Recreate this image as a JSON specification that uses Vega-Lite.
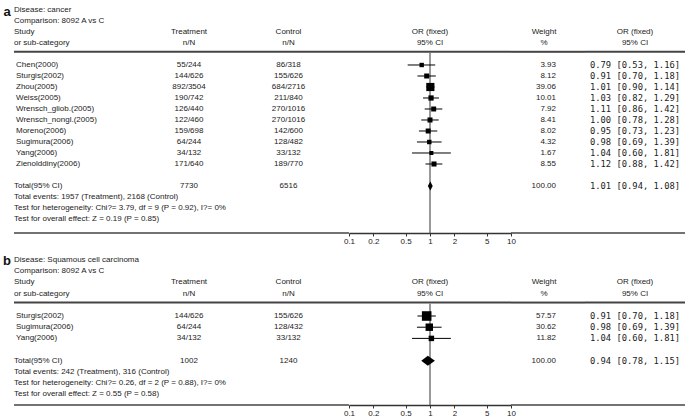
{
"$schema": "https://vega.github.io/schema/vega-lite/v6.json",
"padding": 0,
"background": "white",
"config": {"view": {"stroke": null}, "text": {"font": "Liberation Sans", "fontSize": 8, "color": "#222"}},
"datasets": {
 "a_rows": [
  {"row": 5, "study": "Chen(2000)", "treat": "55/244", "ctrl": "86/318", "weight": 3.93, "or": 0.79, "lo": 0.53, "hi": 1.16, "ci": "0.79 [0.53, 1.16]", "kind": "study"},
  {"row": 6, "study": "Sturgis(2002)", "treat": "144/626", "ctrl": "155/626", "weight": 8.12, "or": 0.91, "lo": 0.70, "hi": 1.18, "ci": "0.91 [0.70, 1.18]", "kind": "study"},
  {"row": 7, "study": "Zhou(2005)", "treat": "892/3504", "ctrl": "684/2716", "weight": 39.06, "or": 1.01, "lo": 0.90, "hi": 1.14, "ci": "1.01 [0.90, 1.14]", "kind": "study"},
  {"row": 8, "study": "Weiss(2005)", "treat": "190/742", "ctrl": "211/840", "weight": 10.01, "or": 1.03, "lo": 0.82, "hi": 1.29, "ci": "1.03 [0.82, 1.29]", "kind": "study"},
  {"row": 9, "study": "Wrensch_gliob.(2005)", "treat": "126/440", "ctrl": "270/1016", "weight": 7.92, "or": 1.11, "lo": 0.86, "hi": 1.42, "ci": "1.11 [0.86, 1.42]", "kind": "study"},
  {"row": 10, "study": "Wrensch_nongl.(2005)", "treat": "122/460", "ctrl": "270/1016", "weight": 8.41, "or": 1.00, "lo": 0.78, "hi": 1.28, "ci": "1.00 [0.78, 1.28]", "kind": "study"},
  {"row": 11, "study": "Moreno(2006)", "treat": "159/698", "ctrl": "142/600", "weight": 8.02, "or": 0.95, "lo": 0.73, "hi": 1.23, "ci": "0.95 [0.73, 1.23]", "kind": "study"},
  {"row": 12, "study": "Sugimura(2006)", "treat": "64/244", "ctrl": "128/482", "weight": 4.32, "or": 0.98, "lo": 0.69, "hi": 1.39, "ci": "0.98 [0.69, 1.39]", "kind": "study"},
  {"row": 13, "study": "Yang(2006)", "treat": "34/132", "ctrl": "33/132", "weight": 1.67, "or": 1.04, "lo": 0.60, "hi": 1.81, "ci": "1.04 [0.60, 1.81]", "kind": "study"},
  {"row": 14, "study": "Zienolddiny(2006)", "treat": "171/640", "ctrl": "189/770", "weight": 8.55, "or": 1.12, "lo": 0.88, "hi": 1.42, "ci": "1.12 [0.88, 1.42]", "kind": "study"},
  {"row": 16, "study": "Total(95% CI)", "treat": "7730", "ctrl": "6516", "weight": 100.00, "or": 1.01, "lo": 0.94, "hi": 1.08, "ci": "1.01 [0.94, 1.08]", "kind": "total"}
 ],
 "a_notes": [
  {"row": 0, "note": "Disease: cancer"},
  {"row": 1, "note": "Comparison: 8092 A vs C"},
  {"row": 2, "note": "Study"},
  {"row": 3, "note": "or sub-category"},
  {"row": 17, "note": "Total events: 1957 (Treatment), 2168 (Control)"},
  {"row": 18, "note": "Test for heterogeneity: Chi?= 3.79, df = 9 (P = 0.92), I?= 0%"},
  {"row": 19, "note": "Test for overall effect: Z = 0.19 (P = 0.85)"}
 ],
 "b_rows": [
  {"row": 5, "study": "Sturgis(2002)", "treat": "144/626", "ctrl": "155/626", "weight": 57.57, "or": 0.91, "lo": 0.70, "hi": 1.18, "ci": "0.91 [0.70, 1.18]", "kind": "study"},
  {"row": 6, "study": "Sugimura(2006)", "treat": "64/244", "ctrl": "128/432", "weight": 30.62, "or": 0.98, "lo": 0.69, "hi": 1.39, "ci": "0.98 [0.69, 1.39]", "kind": "study"},
  {"row": 7, "study": "Yang(2006)", "treat": "34/132", "ctrl": "33/132", "weight": 11.82, "or": 1.04, "lo": 0.60, "hi": 1.81, "ci": "1.04 [0.60, 1.81]", "kind": "study"},
  {"row": 9, "study": "Total(95% CI)", "treat": "1002", "ctrl": "1240", "weight": 100.00, "or": 0.94, "lo": 0.78, "hi": 1.15, "ci": "0.94 [0.78, 1.15]", "kind": "total"}
 ],
 "b_notes": [
  {"row": 0, "note": "Disease: Squamous cell carcinoma"},
  {"row": 1, "note": "Comparison: 8092 A vs C"},
  {"row": 2, "note": "Study"},
  {"row": 3, "note": "or sub-category"},
  {"row": 10, "note": "Total events: 242 (Treatment), 316 (Control)"},
  {"row": 11, "note": "Test for heterogeneity: Chi?= 0.26, df = 2 (P = 0.88), I?= 0%"},
  {"row": 12, "note": "Test for overall effect: Z = 0.55 (P = 0.58)"}
 ]
},
"spacing": 5,
"vconcat": [
 {
  "bounds": "flush",
  "spacing": 0,
  "hconcat": [
   {"width": 14, "height": 233, "data": {"values": [{}]}, "mark": {"type": "text", "text": "a", "fontWeight": "bold", "fontSize": 13, "color": "#111"},
    "encoding": {"y": {"datum": 0.15, "type": "quantitative", "scale": {"domain": [-0.909, 20.273], "reverse": true, "nice": false, "zero": false}, "axis": null}}},
   {"width": 136, "height": 233, "layer": [
     {"data": {"name": "a_notes"}, "mark": {"type": "text", "align": "left"}, "encoding": {"x": {"value": 0}, "y": {"field": "row", "type": "quantitative", "scale": {"domain": [-0.909, 20.273], "reverse": true, "nice": false, "zero": false}, "axis": null}, "text": {"field": "note"}}},
     {"data": {"name": "a_rows"}, "transform": [{"filter": "datum.kind == 'study'"}], "mark": {"type": "text", "align": "left", "dx": 2}, "encoding": {"x": {"value": 0}, "y": {"field": "row", "type": "quantitative", "scale": {"domain": [-0.909, 20.273], "reverse": true, "nice": false, "zero": false}, "axis": null}, "text": {"field": "study"}}},
     {"data": {"name": "a_rows"}, "transform": [{"filter": "datum.kind == 'total'"}], "mark": {"type": "text", "align": "left"}, "encoding": {"x": {"value": 0}, "y": {"field": "row", "type": "quantitative", "scale": {"domain": [-0.909, 20.273], "reverse": true, "nice": false, "zero": false}, "axis": null}, "text": {"field": "study"}}},
     {"data": {"values": [{}]}, "mark": {"type": "rule", "color": "#444", "strokeWidth": 2}, "encoding": {"y": {"datum": 3.8, "type": "quantitative", "scale": {"domain": [-0.909, 20.273], "reverse": true, "nice": false, "zero": false}, "axis": null}}},
     {"data": {"values": [{}]}, "mark": {"type": "rule", "color": "#444", "strokeWidth": 1.5}, "encoding": {"y": {"datum": 20.273, "type": "quantitative", "scale": {"domain": [-0.909, 20.273], "reverse": true, "nice": false, "zero": false}, "axis": null}}}
   ]},
   {"width": 78, "height": 233, "layer": [
     {"data": {"values": [{"row": 2, "h": "Treatment"}, {"row": 3, "h": "n/N"}]}, "mark": "text", "encoding": {"y": {"field": "row", "type": "quantitative", "scale": {"domain": [-0.909, 20.273], "reverse": true, "nice": false, "zero": false}, "axis": null}, "text": {"field": "h"}}},
     {"data": {"name": "a_rows"}, "mark": "text", "encoding": {"y": {"field": "row", "type": "quantitative", "scale": {"domain": [-0.909, 20.273], "reverse": true, "nice": false, "zero": false}, "axis": null}, "text": {"field": "treat"}}},
     {"data": {"values": [{}]}, "mark": {"type": "rule", "color": "#444", "strokeWidth": 2}, "encoding": {"y": {"datum": 3.8, "type": "quantitative", "scale": {"domain": [-0.909, 20.273], "reverse": true, "nice": false, "zero": false}, "axis": null}}},
     {"data": {"values": [{}]}, "mark": {"type": "rule", "color": "#444", "strokeWidth": 1.5}, "encoding": {"y": {"datum": 20.273, "type": "quantitative", "scale": {"domain": [-0.909, 20.273], "reverse": true, "nice": false, "zero": false}, "axis": null}}}
   ]},
   {"width": 121, "height": 233, "layer": [
     {"data": {"values": [{"row": 2, "h": "Control"}, {"row": 3, "h": "n/N"}]}, "mark": "text", "encoding": {"y": {"field": "row", "type": "quantitative", "scale": {"domain": [-0.909, 20.273], "reverse": true, "nice": false, "zero": false}, "axis": null}, "text": {"field": "h"}}},
     {"data": {"name": "a_rows"}, "mark": "text", "encoding": {"y": {"field": "row", "type": "quantitative", "scale": {"domain": [-0.909, 20.273], "reverse": true, "nice": false, "zero": false}, "axis": null}, "text": {"field": "ctrl"}}},
     {"data": {"values": [{}]}, "mark": {"type": "rule", "color": "#444", "strokeWidth": 2}, "encoding": {"y": {"datum": 3.8, "type": "quantitative", "scale": {"domain": [-0.909, 20.273], "reverse": true, "nice": false, "zero": false}, "axis": null}}},
     {"data": {"values": [{}]}, "mark": {"type": "rule", "color": "#444", "strokeWidth": 1.5}, "encoding": {"y": {"datum": 20.273, "type": "quantitative", "scale": {"domain": [-0.909, 20.273], "reverse": true, "nice": false, "zero": false}, "axis": null}}}
   ]},
   {"width": 162, "height": 233, "layer": [
     {"data": {"values": [{"row": 2, "h": "OR (fixed)"}, {"row": 3, "h": "95% CI"}]}, "mark": "text", "encoding": {"y": {"field": "row", "type": "quantitative", "scale": {"domain": [-0.909, 20.273], "reverse": true, "nice": false, "zero": false}, "axis": null}, "text": {"field": "h"}}},
     {"data": {"values": [{}]}, "mark": {"type": "rule", "color": "#444", "strokeWidth": 2}, "encoding": {"y": {"datum": 3.8, "type": "quantitative", "scale": {"domain": [-0.909, 20.273], "reverse": true, "nice": false, "zero": false}, "axis": null}}},
     {"data": {"values": [{}]}, "mark": {"type": "rule", "color": "#555", "strokeWidth": 1.2},
      "encoding": {"x": {"datum": 1, "type": "quantitative", "scale": {"type": "log", "domain": [0.1, 10], "nice": false}, "axis": {"values": [0.1, 0.2, 0.5, 1, 2, 5, 10], "labelExpr": "'' + datum.value", "title": null, "grid": false, "tickSize": 3, "labelFontSize": 8, "labelFont": "Liberation Sans", "labelPadding": 1, "labelColor": "#222", "domainColor": "#333", "domainWidth": 1.5, "tickColor": "#333", "labelFlush": false, "labelOverlap": false, "labelBound": false}},
       "y": {"datum": 3.9, "type": "quantitative", "scale": {"domain": [-0.909, 20.273], "reverse": true, "nice": false, "zero": false}, "axis": null}, "y2": {"datum": 20.273}}},
     {"data": {"name": "a_rows"}, "transform": [{"filter": "datum.kind == 'study'"}], "mark": {"type": "rule", "color": "#000", "strokeWidth": 1},
      "encoding": {"x": {"field": "lo", "type": "quantitative", "scale": {"type": "log", "domain": [0.1, 10], "nice": false}, "axis": {"values": [0.1, 0.2, 0.5, 1, 2, 5, 10], "labelExpr": "'' + datum.value", "title": null, "grid": false, "tickSize": 3, "labelFontSize": 8, "labelFont": "Liberation Sans", "labelPadding": 1, "labelColor": "#222", "domainColor": "#333", "domainWidth": 1.5, "tickColor": "#333", "labelFlush": false, "labelOverlap": false, "labelBound": false}},
       "x2": {"field": "hi"}, "y": {"field": "row", "type": "quantitative", "scale": {"domain": [-0.909, 20.273], "reverse": true, "nice": false, "zero": false}, "axis": null}}},
     {"data": {"name": "a_rows"}, "transform": [{"filter": "datum.kind == 'study'"}], "mark": {"type": "point", "shape": "square", "filled": true, "opacity": 1, "color": "#000"},
      "encoding": {"x": {"field": "or", "type": "quantitative", "scale": {"type": "log", "domain": [0.1, 10], "nice": false}, "axis": {"values": [0.1, 0.2, 0.5, 1, 2, 5, 10], "labelExpr": "'' + datum.value", "title": null, "grid": false, "tickSize": 3, "labelFontSize": 8, "labelFont": "Liberation Sans", "labelPadding": 1, "labelColor": "#222", "domainColor": "#333", "domainWidth": 1.5, "tickColor": "#333", "labelFlush": false, "labelOverlap": false, "labelBound": false}},
       "y": {"field": "row", "type": "quantitative", "scale": {"domain": [-0.909, 20.273], "reverse": true, "nice": false, "zero": false}, "axis": null},
       "size": {"field": "weight", "type": "quantitative", "scale": {"domain": [0, 100], "range": [14, 149]}, "legend": null}}},
     {"data": {"name": "a_rows"}, "transform": [{"filter": "datum.kind == 'total'"}], "mark": {"type": "point", "shape": "M-0.56,0L0,-1L0.52,0L0,1Z", "filled": true, "opacity": 1, "color": "#000", "size": 81},
      "encoding": {"x": {"field": "or", "type": "quantitative", "scale": {"type": "log", "domain": [0.1, 10], "nice": false}, "axis": {"values": [0.1, 0.2, 0.5, 1, 2, 5, 10], "labelExpr": "'' + datum.value", "title": null, "grid": false, "tickSize": 3, "labelFontSize": 8, "labelFont": "Liberation Sans", "labelPadding": 1, "labelColor": "#222", "domainColor": "#333", "domainWidth": 1.5, "tickColor": "#333", "labelFlush": false, "labelOverlap": false, "labelBound": false}},
       "y": {"field": "row", "type": "quantitative", "scale": {"domain": [-0.909, 20.273], "reverse": true, "nice": false, "zero": false}, "axis": null}}}
   ]},
   {"width": 21, "height": 233, "layer": [
     {"data": {"values": [{}]}, "mark": {"type": "rule", "color": "#444", "strokeWidth": 2}, "encoding": {"y": {"datum": 3.8, "type": "quantitative", "scale": {"domain": [-0.909, 20.273], "reverse": true, "nice": false, "zero": false}, "axis": null}}},
     {"data": {"values": [{}]}, "mark": {"type": "rule", "color": "#444", "strokeWidth": 1.5}, "encoding": {"y": {"datum": 20.273, "type": "quantitative", "scale": {"domain": [-0.909, 20.273], "reverse": true, "nice": false, "zero": false}, "axis": null}}}
   ]},
   {"width": 24, "height": 233, "layer": [
     {"data": {"values": [{"row": 2, "h": "Weight"}, {"row": 3, "h": "%"}]}, "mark": "text", "encoding": {"y": {"field": "row", "type": "quantitative", "scale": {"domain": [-0.909, 20.273], "reverse": true, "nice": false, "zero": false}, "axis": null}, "text": {"field": "h"}}},
     {"data": {"name": "a_rows"}, "mark": {"type": "text", "align": "right"}, "encoding": {"x": {"value": "width"}, "y": {"field": "row", "type": "quantitative", "scale": {"domain": [-0.909, 20.273], "reverse": true, "nice": false, "zero": false}, "axis": null}, "text": {"field": "weight", "format": ".2f"}}},
     {"data": {"values": [{}]}, "mark": {"type": "rule", "color": "#444", "strokeWidth": 2}, "encoding": {"y": {"datum": 3.8, "type": "quantitative", "scale": {"domain": [-0.909, 20.273], "reverse": true, "nice": false, "zero": false}, "axis": null}}},
     {"data": {"values": [{}]}, "mark": {"type": "rule", "color": "#444", "strokeWidth": 1.5}, "encoding": {"y": {"datum": 20.273, "type": "quantitative", "scale": {"domain": [-0.909, 20.273], "reverse": true, "nice": false, "zero": false}, "axis": null}}}
   ]},
   {"width": 29, "height": 233, "layer": [
     {"data": {"values": [{}]}, "mark": {"type": "rule", "color": "#444", "strokeWidth": 2}, "encoding": {"y": {"datum": 3.8, "type": "quantitative", "scale": {"domain": [-0.909, 20.273], "reverse": true, "nice": false, "zero": false}, "axis": null}}},
     {"data": {"values": [{}]}, "mark": {"type": "rule", "color": "#444", "strokeWidth": 1.5}, "encoding": {"y": {"datum": 20.273, "type": "quantitative", "scale": {"domain": [-0.909, 20.273], "reverse": true, "nice": false, "zero": false}, "axis": null}}}
   ]},
   {"width": 100, "height": 233, "layer": [
     {"data": {"values": [{"row": 2, "h": "OR (fixed)"}, {"row": 3, "h": "95% CI"}]}, "mark": "text", "encoding": {"y": {"field": "row", "type": "quantitative", "scale": {"domain": [-0.909, 20.273], "reverse": true, "nice": false, "zero": false}, "axis": null}, "text": {"field": "h"}}},
     {"data": {"name": "a_rows"}, "mark": {"type": "text", "font": "DejaVu Sans Mono", "fontSize": 8.8}, "encoding": {"y": {"field": "row", "type": "quantitative", "scale": {"domain": [-0.909, 20.273], "reverse": true, "nice": false, "zero": false}, "axis": null}, "text": {"field": "ci"}}},
     {"data": {"values": [{}]}, "mark": {"type": "rule", "color": "#444", "strokeWidth": 2}, "encoding": {"y": {"datum": 3.8, "type": "quantitative", "scale": {"domain": [-0.909, 20.273], "reverse": true, "nice": false, "zero": false}, "axis": null}}},
     {"data": {"values": [{}]}, "mark": {"type": "rule", "color": "#444", "strokeWidth": 1.5}, "encoding": {"y": {"datum": 20.273, "type": "quantitative", "scale": {"domain": [-0.909, 20.273], "reverse": true, "nice": false, "zero": false}, "axis": null}}}
   ]}
  ]
 },
 {
  "bounds": "flush",
  "spacing": 0,
  "hconcat": [
   {"width": 14, "height": 155, "data": {"values": [{}]}, "mark": {"type": "text", "text": "b", "fontWeight": "bold", "fontSize": 13, "color": "#111"},
    "encoding": {"y": {"datum": 0.05, "type": "quantitative", "scale": {"domain": [-0.893, 12.946], "reverse": true, "nice": false, "zero": false}, "axis": null}}},
   {"width": 136, "height": 155, "layer": [
     {"data": {"name": "b_notes"}, "mark": {"type": "text", "align": "left"}, "encoding": {"x": {"value": 0}, "y": {"field": "row", "type": "quantitative", "scale": {"domain": [-0.893, 12.946], "reverse": true, "nice": false, "zero": false}, "axis": null}, "text": {"field": "note"}}},
     {"data": {"name": "b_rows"}, "transform": [{"filter": "datum.kind == 'study'"}], "mark": {"type": "text", "align": "left", "dx": 2}, "encoding": {"x": {"value": 0}, "y": {"field": "row", "type": "quantitative", "scale": {"domain": [-0.893, 12.946], "reverse": true, "nice": false, "zero": false}, "axis": null}, "text": {"field": "study"}}},
     {"data": {"name": "b_rows"}, "transform": [{"filter": "datum.kind == 'total'"}], "mark": {"type": "text", "align": "left"}, "encoding": {"x": {"value": 0}, "y": {"field": "row", "type": "quantitative", "scale": {"domain": [-0.893, 12.946], "reverse": true, "nice": false, "zero": false}, "axis": null}, "text": {"field": "study"}}},
     {"data": {"values": [{}]}, "mark": {"type": "rule", "color": "#444", "strokeWidth": 2}, "encoding": {"y": {"datum": 3.8, "type": "quantitative", "scale": {"domain": [-0.893, 12.946], "reverse": true, "nice": false, "zero": false}, "axis": null}}},
     {"data": {"values": [{}]}, "mark": {"type": "rule", "color": "#444", "strokeWidth": 1.5}, "encoding": {"y": {"datum": 12.946, "type": "quantitative", "scale": {"domain": [-0.893, 12.946], "reverse": true, "nice": false, "zero": false}, "axis": null}}}
   ]},
   {"width": 78, "height": 155, "layer": [
     {"data": {"values": [{"row": 2, "h": "Treatment"}, {"row": 3, "h": "n/N"}]}, "mark": "text", "encoding": {"y": {"field": "row", "type": "quantitative", "scale": {"domain": [-0.893, 12.946], "reverse": true, "nice": false, "zero": false}, "axis": null}, "text": {"field": "h"}}},
     {"data": {"name": "b_rows"}, "mark": "text", "encoding": {"y": {"field": "row", "type": "quantitative", "scale": {"domain": [-0.893, 12.946], "reverse": true, "nice": false, "zero": false}, "axis": null}, "text": {"field": "treat"}}},
     {"data": {"values": [{}]}, "mark": {"type": "rule", "color": "#444", "strokeWidth": 2}, "encoding": {"y": {"datum": 3.8, "type": "quantitative", "scale": {"domain": [-0.893, 12.946], "reverse": true, "nice": false, "zero": false}, "axis": null}}},
     {"data": {"values": [{}]}, "mark": {"type": "rule", "color": "#444", "strokeWidth": 1.5}, "encoding": {"y": {"datum": 12.946, "type": "quantitative", "scale": {"domain": [-0.893, 12.946], "reverse": true, "nice": false, "zero": false}, "axis": null}}}
   ]},
   {"width": 121, "height": 155, "layer": [
     {"data": {"values": [{"row": 2, "h": "Control"}, {"row": 3, "h": "n/N"}]}, "mark": "text", "encoding": {"y": {"field": "row", "type": "quantitative", "scale": {"domain": [-0.893, 12.946], "reverse": true, "nice": false, "zero": false}, "axis": null}, "text": {"field": "h"}}},
     {"data": {"name": "b_rows"}, "mark": "text", "encoding": {"y": {"field": "row", "type": "quantitative", "scale": {"domain": [-0.893, 12.946], "reverse": true, "nice": false, "zero": false}, "axis": null}, "text": {"field": "ctrl"}}},
     {"data": {"values": [{}]}, "mark": {"type": "rule", "color": "#444", "strokeWidth": 2}, "encoding": {"y": {"datum": 3.8, "type": "quantitative", "scale": {"domain": [-0.893, 12.946], "reverse": true, "nice": false, "zero": false}, "axis": null}}},
     {"data": {"values": [{}]}, "mark": {"type": "rule", "color": "#444", "strokeWidth": 1.5}, "encoding": {"y": {"datum": 12.946, "type": "quantitative", "scale": {"domain": [-0.893, 12.946], "reverse": true, "nice": false, "zero": false}, "axis": null}}}
   ]},
   {"width": 162, "height": 155, "layer": [
     {"data": {"values": [{"row": 2, "h": "OR (fixed)"}, {"row": 3, "h": "95% CI"}]}, "mark": "text", "encoding": {"y": {"field": "row", "type": "quantitative", "scale": {"domain": [-0.893, 12.946], "reverse": true, "nice": false, "zero": false}, "axis": null}, "text": {"field": "h"}}},
     {"data": {"values": [{}]}, "mark": {"type": "rule", "color": "#444", "strokeWidth": 2}, "encoding": {"y": {"datum": 3.8, "type": "quantitative", "scale": {"domain": [-0.893, 12.946], "reverse": true, "nice": false, "zero": false}, "axis": null}}},
     {"data": {"values": [{}]}, "mark": {"type": "rule", "color": "#555", "strokeWidth": 1.2},
      "encoding": {"x": {"datum": 1, "type": "quantitative", "scale": {"type": "log", "domain": [0.1, 10], "nice": false}, "axis": {"values": [0.1, 0.2, 0.5, 1, 2, 5, 10], "labelExpr": "'' + datum.value", "title": null, "grid": false, "tickSize": 3, "labelFontSize": 8, "labelFont": "Liberation Sans", "labelPadding": 1, "labelColor": "#222", "domainColor": "#333", "domainWidth": 1.5, "tickColor": "#333", "labelFlush": false, "labelOverlap": false, "labelBound": false}},
       "y": {"datum": 3.9, "type": "quantitative", "scale": {"domain": [-0.893, 12.946], "reverse": true, "nice": false, "zero": false}, "axis": null}, "y2": {"datum": 12.946}}},
     {"data": {"name": "b_rows"}, "transform": [{"filter": "datum.kind == 'study'"}], "mark": {"type": "rule", "color": "#000", "strokeWidth": 1},
      "encoding": {"x": {"field": "lo", "type": "quantitative", "scale": {"type": "log", "domain": [0.1, 10], "nice": false}, "axis": {"values": [0.1, 0.2, 0.5, 1, 2, 5, 10], "labelExpr": "'' + datum.value", "title": null, "grid": false, "tickSize": 3, "labelFontSize": 8, "labelFont": "Liberation Sans", "labelPadding": 1, "labelColor": "#222", "domainColor": "#333", "domainWidth": 1.5, "tickColor": "#333", "labelFlush": false, "labelOverlap": false, "labelBound": false}},
       "x2": {"field": "hi"}, "y": {"field": "row", "type": "quantitative", "scale": {"domain": [-0.893, 12.946], "reverse": true, "nice": false, "zero": false}, "axis": null}}},
     {"data": {"name": "b_rows"}, "transform": [{"filter": "datum.kind == 'study'"}], "mark": {"type": "point", "shape": "square", "filled": true, "opacity": 1, "color": "#000"},
      "encoding": {"x": {"field": "or", "type": "quantitative", "scale": {"type": "log", "domain": [0.1, 10], "nice": false}, "axis": {"values": [0.1, 0.2, 0.5, 1, 2, 5, 10], "labelExpr": "'' + datum.value", "title": null, "grid": false, "tickSize": 3, "labelFontSize": 8, "labelFont": "Liberation Sans", "labelPadding": 1, "labelColor": "#222", "domainColor": "#333", "domainWidth": 1.5, "tickColor": "#333", "labelFlush": false, "labelOverlap": false, "labelBound": false}},
       "y": {"field": "row", "type": "quantitative", "scale": {"domain": [-0.893, 12.946], "reverse": true, "nice": false, "zero": false}, "axis": null},
       "size": {"field": "weight", "type": "quantitative", "scale": {"domain": [0, 100], "range": [14, 149]}, "legend": null}}},
     {"data": {"name": "b_rows"}, "transform": [{"filter": "datum.kind == 'total'"}], "mark": {"type": "point", "shape": "M-0.96,0L0,-0.73L1.04,0L0,0.73Z", "filled": true, "opacity": 1, "color": "#000", "size": 187},
      "encoding": {"x": {"field": "or", "type": "quantitative", "scale": {"type": "log", "domain": [0.1, 10], "nice": false}, "axis": {"values": [0.1, 0.2, 0.5, 1, 2, 5, 10], "labelExpr": "'' + datum.value", "title": null, "grid": false, "tickSize": 3, "labelFontSize": 8, "labelFont": "Liberation Sans", "labelPadding": 1, "labelColor": "#222", "domainColor": "#333", "domainWidth": 1.5, "tickColor": "#333", "labelFlush": false, "labelOverlap": false, "labelBound": false}},
       "y": {"field": "row", "type": "quantitative", "scale": {"domain": [-0.893, 12.946], "reverse": true, "nice": false, "zero": false}, "axis": null}}}
   ]},
   {"width": 21, "height": 155, "layer": [
     {"data": {"values": [{}]}, "mark": {"type": "rule", "color": "#444", "strokeWidth": 2}, "encoding": {"y": {"datum": 3.8, "type": "quantitative", "scale": {"domain": [-0.893, 12.946], "reverse": true, "nice": false, "zero": false}, "axis": null}}},
     {"data": {"values": [{}]}, "mark": {"type": "rule", "color": "#444", "strokeWidth": 1.5}, "encoding": {"y": {"datum": 12.946, "type": "quantitative", "scale": {"domain": [-0.893, 12.946], "reverse": true, "nice": false, "zero": false}, "axis": null}}}
   ]},
   {"width": 24, "height": 155, "layer": [
     {"data": {"values": [{"row": 2, "h": "Weight"}, {"row": 3, "h": "%"}]}, "mark": "text", "encoding": {"y": {"field": "row", "type": "quantitative", "scale": {"domain": [-0.893, 12.946], "reverse": true, "nice": false, "zero": false}, "axis": null}, "text": {"field": "h"}}},
     {"data": {"name": "b_rows"}, "mark": {"type": "text", "align": "right"}, "encoding": {"x": {"value": "width"}, "y": {"field": "row", "type": "quantitative", "scale": {"domain": [-0.893, 12.946], "reverse": true, "nice": false, "zero": false}, "axis": null}, "text": {"field": "weight", "format": ".2f"}}},
     {"data": {"values": [{}]}, "mark": {"type": "rule", "color": "#444", "strokeWidth": 2}, "encoding": {"y": {"datum": 3.8, "type": "quantitative", "scale": {"domain": [-0.893, 12.946], "reverse": true, "nice": false, "zero": false}, "axis": null}}},
     {"data": {"values": [{}]}, "mark": {"type": "rule", "color": "#444", "strokeWidth": 1.5}, "encoding": {"y": {"datum": 12.946, "type": "quantitative", "scale": {"domain": [-0.893, 12.946], "reverse": true, "nice": false, "zero": false}, "axis": null}}}
   ]},
   {"width": 29, "height": 155, "layer": [
     {"data": {"values": [{}]}, "mark": {"type": "rule", "color": "#444", "strokeWidth": 2}, "encoding": {"y": {"datum": 3.8, "type": "quantitative", "scale": {"domain": [-0.893, 12.946], "reverse": true, "nice": false, "zero": false}, "axis": null}}},
     {"data": {"values": [{}]}, "mark": {"type": "rule", "color": "#444", "strokeWidth": 1.5}, "encoding": {"y": {"datum": 12.946, "type": "quantitative", "scale": {"domain": [-0.893, 12.946], "reverse": true, "nice": false, "zero": false}, "axis": null}}}
   ]},
   {"width": 100, "height": 155, "layer": [
     {"data": {"values": [{"row": 2, "h": "OR (fixed)"}, {"row": 3, "h": "95% CI"}]}, "mark": "text", "encoding": {"y": {"field": "row", "type": "quantitative", "scale": {"domain": [-0.893, 12.946], "reverse": true, "nice": false, "zero": false}, "axis": null}, "text": {"field": "h"}}},
     {"data": {"name": "b_rows"}, "mark": {"type": "text", "font": "DejaVu Sans Mono", "fontSize": 8.8}, "encoding": {"y": {"field": "row", "type": "quantitative", "scale": {"domain": [-0.893, 12.946], "reverse": true, "nice": false, "zero": false}, "axis": null}, "text": {"field": "ci"}}},
     {"data": {"values": [{}]}, "mark": {"type": "rule", "color": "#444", "strokeWidth": 2}, "encoding": {"y": {"datum": 3.8, "type": "quantitative", "scale": {"domain": [-0.893, 12.946], "reverse": true, "nice": false, "zero": false}, "axis": null}}},
     {"data": {"values": [{}]}, "mark": {"type": "rule", "color": "#444", "strokeWidth": 1.5}, "encoding": {"y": {"datum": 12.946, "type": "quantitative", "scale": {"domain": [-0.893, 12.946], "reverse": true, "nice": false, "zero": false}, "axis": null}}}
   ]}
  ]
 }
]
}
